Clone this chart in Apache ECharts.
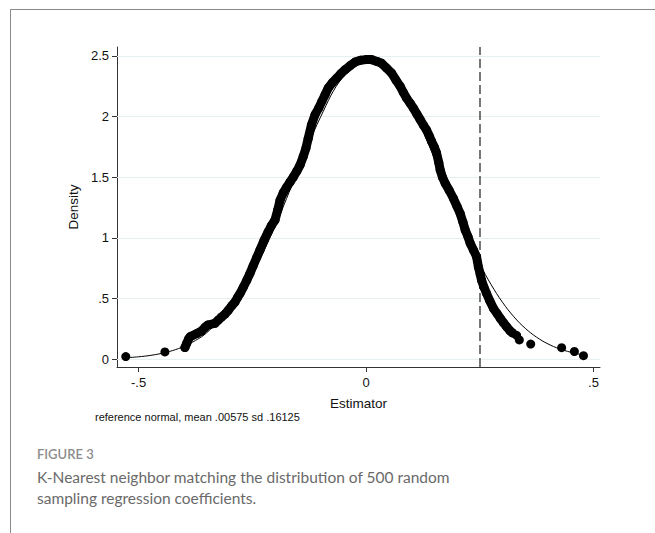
<!DOCTYPE html>
<html>
<head>
<meta charset="utf-8">
<script src="https://cdn.jsdelivr.net/npm/echarts@6/dist/echarts.min.js"></script>
<style>
html,body{margin:0;padding:0;background:#fff;}
#chart{width:655px;height:533px;}
</style>
</head>
<body>
<div id="chart"></div>
<script>
// Kernel density evaluated at each estimator
const densityX = [-0.528,-0.442,-0.398,-0.394,-0.390,-0.386,-0.372,-0.362,-0.354,-0.348,-0.332,-0.325,-0.318,-0.310,-0.303,-0.295,-0.288,-0.282,-0.277,-0.270,-0.262,-0.255,-0.248,-0.240,-0.233,-0.224,-0.215,-0.208,-0.200,-0.194,-0.189,-0.182,-0.174,-0.167,-0.160,-0.152,-0.145,-0.138,-0.132,-0.127,-0.120,-0.112,-0.104,-0.097,-0.090,-0.083,-0.074,-0.064,-0.055,-0.046,-0.035,-0.024,-0.012,0.000,0.012,0.024,0.034,0.045,0.056,0.066,0.075,0.082,0.089,0.097,0.104,0.112,0.119,0.126,0.133,0.139,0.144,0.150,0.155,0.160,0.163,0.168,0.174,0.183,0.192,0.200,0.207,0.213,0.218,0.224,0.229,0.236,0.243,0.247,0.251,0.254,0.259,0.265,0.272,0.280,0.288,0.295,0.302,0.309,0.316,0.322,0.331,0.337,0.362,0.430,0.458,0.478];
const densityY = [0.020,0.058,0.095,0.130,0.165,0.185,0.210,0.230,0.260,0.280,0.295,0.320,0.345,0.370,0.400,0.440,0.470,0.510,0.540,0.590,0.650,0.707,0.770,0.840,0.900,0.980,1.050,1.100,1.147,1.230,1.310,1.370,1.420,1.460,1.500,1.550,1.600,1.670,1.740,1.820,1.930,2.016,2.070,2.126,2.180,2.236,2.280,2.318,2.355,2.387,2.420,2.450,2.465,2.470,2.470,2.455,2.440,2.400,2.360,2.300,2.250,2.200,2.153,2.110,2.070,2.020,1.975,1.930,1.890,1.840,1.796,1.750,1.700,1.620,1.560,1.500,1.450,1.390,1.326,1.260,1.200,1.130,1.064,1.010,0.955,0.900,0.844,0.760,0.700,0.650,0.595,0.540,0.480,0.418,0.375,0.336,0.300,0.267,0.235,0.215,0.195,0.157,0.123,0.093,0.062,0.027];

// Reference normal curve (mean .00575, sd .16125)
const normalX = [-0.528,-0.500,-0.475,-0.450,-0.425,-0.400,-0.375,-0.350,-0.300,-0.250,-0.200,-0.150,-0.100,-0.050,0.000,0.050,0.100,0.150,0.200,0.250,0.275,0.300,0.325,0.350,0.375,0.400,0.425,0.450,0.460,0.478];
const normalY = [0.0103,0.0181,0.0291,0.0456,0.0698,0.1043,0.1523,0.2170,0.4098,0.7032,1.0963,1.5517,1.9954,2.3306,2.4725,2.3826,2.0857,1.6584,1.1975,0.7855,0.6138,0.4681,0.3485,0.2533,0.1798,0.1245,0.0842,0.0556,0.0468,0.0330];

const observedEstimate = 0.248;
const xTickValues = [-0.5, 0, 0.5];
const yTickValues = [0, 0.5, 1, 1.5, 2, 2.5];
const xTitle = 'Estimator';
const yTitle = 'Density';
const noteText = 'reference normal, mean .00575 sd .16125';
const figureLabel = 'FIGURE 3';
const captionLines = ['K-Nearest neighbor matching the distribution of 500 random', 'sampling regression coefficients.'];

function stataFmt(v) {
  if (v === 0) return '0';
  let s = String(Math.round(v * 1000) / 1000);
  return s.replace(/^(-?)0\./, '$1.');
}

const points = densityX.map((x, i) => [x, densityY[i]]);
const bandPoints = points.filter(p => p[0] >= -0.40 && p[0] <= 0.325);
const normalPoints = normalX.map((x, i) => [x, normalY[i]]);

const chart = echarts.init(document.getElementById('chart'), null, {renderer: 'svg'});
const axisColor = '#333';
const labelFont = {fontFamily: 'Liberation Sans, Arial, sans-serif', fontSize: 13, color: '#111'};

chart.setOption({
  animation: false,
  backgroundColor: '#fff',
  grid: {left: 117, top: 47, right: 55, bottom: 166, containLabel: false},
  xAxis: {
    type: 'value', min: -0.5473, max: 0.5143,
    name: xTitle, nameLocation: 'middle', nameGap: 29,
    nameTextStyle: Object.assign({}, labelFont, {fontSize: 13.5}),
    axisLine: {show: true, onZero: false, lineStyle: {color: axisColor, width: 1}},
    axisTick: {show: true, length: 5, customValues: xTickValues, lineStyle: {color: axisColor}},
    axisLabel: Object.assign({customValues: xTickValues, margin: 9, formatter: stataFmt}, labelFont),
    splitLine: {show: false}
  },
  yAxis: {
    type: 'value', min: -0.066, max: 2.574,
    name: yTitle, nameLocation: 'middle', nameGap: 36, nameRotate: 90,
    nameTextStyle: Object.assign({}, labelFont, {fontSize: 13.5}),
    axisLine: {show: true, onZero: false, lineStyle: {color: axisColor, width: 1}},
    axisTick: {show: true, length: 5, customValues: yTickValues, lineStyle: {color: axisColor}},
    axisLabel: Object.assign({customValues: yTickValues, margin: 8, formatter: stataFmt}, labelFont),
    splitLine: {show: false}
  },
  series: [
    {
      type: 'line', data: normalPoints, smooth: 0.4, symbol: 'none', z: 2,
      lineStyle: {color: '#000', width: 1},
      markLine: {
        silent: true, symbol: 'none', label: {show: false},
        data: yTickValues.map(v => ({yAxis: v, lineStyle: {color: '#e7eef1', width: 1, type: 'solid'}}))
          .concat([{xAxis: observedEstimate, lineStyle: {color: '#555', width: 1.6, type: [9, 4]}}]),
        z: 1
      }
    },
    {
      type: 'line', data: bandPoints, symbol: 'none', z: 3,
      lineStyle: {color: '#000', width: 9, cap: 'round', join: 'round'}
    },
    {
      type: 'scatter', data: points, symbol: 'circle', symbolSize: 9, z: 4,
      itemStyle: {color: '#000', opacity: 1}
    }
  ],
  graphic: [
    {type: 'line', shape: {x1: 10.5, y1: 9.5, x2: 655, y2: 9.5}, style: {stroke: '#8a8a8a', lineWidth: 1}},
    {type: 'line', shape: {x1: 10.5, y1: 9.5, x2: 10.5, y2: 533}, style: {stroke: '#8a8a8a', lineWidth: 1}},
    {type: 'text', left: 95, top: 411, style: {text: noteText, fontFamily: 'Liberation Sans, Arial, sans-serif', fontSize: 11, fill: '#111'}},
    {type: 'text', left: 37, top: 447, style: {text: figureLabel, fontFamily: 'Lato, Open Sans, sans-serif', fontSize: 13, fontWeight: 600, fill: '#8c8c8c'}},
    {type: 'text', left: 37, top: 466, style: {text: captionLines.join('\n'), fontFamily: 'Lato, Open Sans, sans-serif', fontSize: 15.5, fontWeight: 'normal', lineHeight: 21, fill: '#6a6a6a'}}
  ]
});
</script>
</body>
</html>
